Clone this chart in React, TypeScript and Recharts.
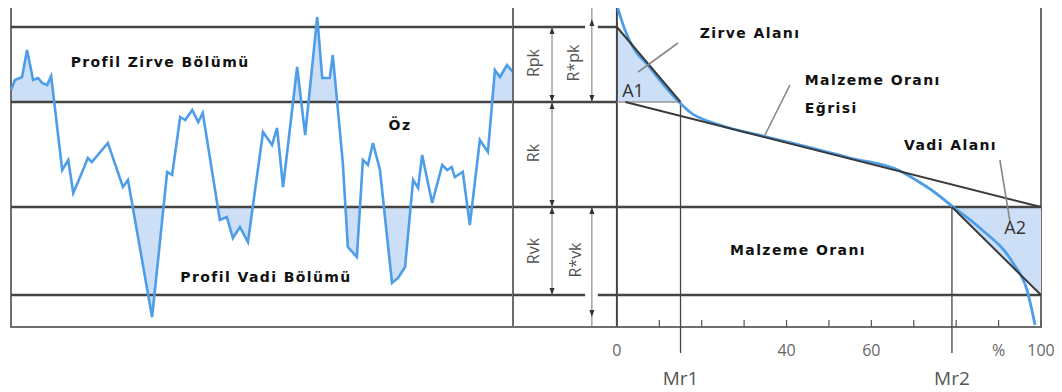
import React from "react";
import {ComposedChart, Line, Area, XAxis, YAxis, ReferenceLine, ReferenceArea, ReferenceDot} from "recharts";

// profile: position along sampling length (%) and height
const PROFILE_X = [0, 0.8, 2.2, 3.2, 4.4, 5.4, 6.2, 7.2, 8.0, 8.8, 10.2, 11.4, 12.4, 14.1, 15.3, 16.1, 19.3, 22.3, 23.3, 28.1, 29.3, 31.1, 32.1, 33.7, 34.7, 36.1, 37.3, 38.2, 41.6, 43.0, 44.2, 45.6, 47.2, 50.2, 52.0, 53.0, 54.2, 57.0, 58.6, 61.0, 62.0, 63.5, 64.1, 65.9, 66.1, 67.1, 68.9, 70.1, 71.1, 72.1, 73.5, 75.9, 77.1, 78.5, 80.1, 81.1, 81.9, 83.9, 85.9, 86.9, 87.8, 88.4, 90.0, 91.4, 93.4, 95.0, 96.4, 97.4, 98.8, 100];
const PROFILE_H = [23.7, 24.7, 25.0, 27.7, 24.7, 24.9, 24.4, 24.2, 25.1, 21.7, 15.7, 16.7, 13.4, 15.4, 16.9, 16.5, 18.4, 14.0, 14.7, 1.0, 6.7, 15.5, 15.2, 21.0, 20.7, 21.7, 20.5, 21.4, 10.7, 11.0, 8.9, 10.0, 8.5, 19.5, 18.2, 19.9, 14.0, 26.0, 19.2, 31.0, 24.9, 24.9, 27.2, 17.5, 16.4, 8.0, 7.0, 16.7, 16.2, 18.4, 15.7, 4.4, 4.9, 6.0, 14.7, 13.9, 17.2, 12.4, 16.2, 15.7, 16.0, 15.0, 15.5, 10.2, 18.7, 17.5, 25.7, 25.0, 26.2, 25.5];

// material ratio curve (Abbott curve)
const RATIO_PCT = [0.2, 1.9, 4.2, 7.3, 10.1, 14.2, 17.2, 24.3, 35.4, 43.2, 55.0, 66.8, 70.5, 74.5, 79.0, 85.6, 93.4, 96.7, 98.6];
const RATIO_H = [31.9, 29.7, 27.7, 26.2, 24.7, 22.7, 21.5, 20.2, 19.0, 18.2, 16.9, 15.6, 14.7, 13.6, 12.1, 9.9, 6.4, 3.7, 0.2];

const PEAK_TOP = 30;
const CORE_TOP = 22.5;
const CORE_BOTTOM = 12;
const VALLEY_BOTTOM = 3.2;
const MR1 = 15;
const MR2 = 79;
const RK_START = 2; // equivalent straight line starts near 0 %

const RATIO_TICKS = [0, 10, 20, 30, 40, 50, 60, 70, 80, 90, 100];
const RATIO_TICK_LABELS: Record<number, string> = {0: "0", 40: "40", 60: "60", 90: "%", 100: "100"};

const profileData = PROFILE_X.map((x, i) => ({x, h: PROFILE_H[i]}));
const ratioData = RATIO_PCT.map((x, i) => ({x, h: RATIO_H[i]}));
const a1Data = [{x: 0, lo: CORE_TOP, hi: PEAK_TOP}, {x: MR1, lo: CORE_TOP, hi: CORE_TOP}];
const a2Data = [{x: MR2, lo: CORE_BOTTOM, hi: CORE_BOTTOM}, {x: 100, lo: VALLEY_BOTTOM, hi: CORE_BOTTOM}];

const BLUE = "#4d9de8";
const FILL = "#cddff6";
const DARK = "#444";
const FRAME = "#6e6e6e";
const LEFT_X = -24.5;
const COL1 = -15.3;
const COL2 = -5.9;

// chart geometry (plot area spans y 7..327 for heights 32..0)
const H = 392;
const TOP = 7;
const PLOT_H = 320;
const Y_MAX = 32;
const yPx = (v: number) => TOP + (Y_MAX - v) / Y_MAX * PLOT_H;

const boldFont = {fontFamily: "DejaVu Sans", fontWeight: 700, fontSize: 14, letterSpacing: 1.4, fill: "#111"};
const plainFont = {fontFamily: "Open Sans", fontSize: 16, fill: "#555"};

const label = (key: string, x: number, y: number, text: string, style: any, anchor = "middle", rotate = false) => (
    <ReferenceDot key={key} x={x} y={y} r={0} ifOverflow="visible"
                  shape={(p: any) => (
                      <text x={p.cx} y={p.cy} textAnchor={anchor} dominantBaseline="central" style={style}
                            transform={rotate ? `rotate(-90 ${p.cx} ${p.cy})` : undefined}>{text}</text>
                  )}/>
);

const arrowHead = (key: string, x: number, y: number, up: boolean) => (
    <ReferenceDot key={key} x={x} y={y} r={0} ifOverflow="visible"
                  shape={(p: any) => {
                      const d = up ? 7 : -7;
                      return <polygon points={`${p.cx},${p.cy} ${p.cx - 2.5},${p.cy + d} ${p.cx + 2.5},${p.cy + d}`} fill="#333"/>;
                  }}/>
);

const seg = (key: string, x1: number, y1: number, x2: number, y2: number, stroke = DARK, width = 2) => (
    <ReferenceLine key={key} segment={[{x: x1, y: y1}, {x: x2, y: y2}]} stroke={stroke} strokeWidth={width} ifOverflow="visible"/>
);

const DIMENSIONS = [
    {x: COL1, from: PEAK_TOP, to: CORE_TOP, tipTop: PEAK_TOP, tipBottom: CORE_TOP},
    {x: COL1, from: CORE_TOP, to: CORE_BOTTOM, tipTop: CORE_TOP, tipBottom: CORE_BOTTOM},
    {x: COL1, from: CORE_BOTTOM, to: VALLEY_BOTTOM, tipTop: CORE_BOTTOM, tipBottom: VALLEY_BOTTOM},
    {x: COL2, from: 32, to: CORE_TOP, tipTop: 30.8, tipBottom: CORE_TOP},
    {x: COL2, from: CORE_BOTTOM, to: 0, tipTop: CORE_BOTTOM, tipBottom: 1.0},
];

const RatioTick = (props: any) => {
    const {x, y, payload} = props;
    const text = RATIO_TICK_LABELS[payload.value];
    return (
        <g>
            <line x1={x} x2={x} y1={y - 7} y2={y} stroke="#555" strokeWidth={1.2}/>
            {text && <text x={x} y={y + 29} textAnchor="middle" fill="#666" fontSize={16} fontFamily="Open Sans">{text}</text>}
        </g>
    );
};

// profile chart; the fill layers are clipped to the peak / valley bands
const ProfileChart = ({children}: {children: React.ReactNode}) => (
    <ComposedChart width={520} height={H} data={profileData} margin={{top: TOP, left: 11, right: 7, bottom: H - TOP - PLOT_H}}>
        <XAxis dataKey="x" type="number" domain={[0, 100]} hide/>
        <YAxis type="number" domain={[0, Y_MAX]} hide allowDataOverflow/>
        {children}
    </ComposedChart>
);

export default function App() {
    const peakClip = `inset(0 0 ${H - yPx(CORE_TOP)}px 0)`;
    const valleyClip = `inset(${yPx(CORE_BOTTOM)}px 0 0 0)`;
    return (
        <div style={{position: "relative", left: -8, top: -8, width: 1062, height: H, background: "#fff"}}>
            <div style={{position: "absolute", left: 0, top: 0, clipPath: peakClip}}>
                <ProfileChart>
                    <Area dataKey="h" baseValue={CORE_TOP} type="linear" fill={FILL} fillOpacity={1} stroke="none" isAnimationActive={false}/>
                </ProfileChart>
            </div>
            <div style={{position: "absolute", left: 0, top: 0, clipPath: valleyClip}}>
                <ProfileChart>
                    <Area dataKey="h" baseValue={CORE_BOTTOM} type="linear" fill={FILL} fillOpacity={1} stroke="none" isAnimationActive={false}/>
                </ProfileChart>
            </div>
            <div style={{position: "absolute", left: 0, top: 0}}>
                <ProfileChart>
                    <ReferenceArea x1={0} x2={100} y1={0} y2={Y_MAX} fill="none" stroke={FRAME} strokeWidth={2} ifOverflow="visible"/>
                    <ReferenceLine y={PEAK_TOP} stroke={DARK} strokeWidth={2.5}/>
                    <ReferenceLine y={CORE_TOP} stroke={DARK} strokeWidth={2.5}/>
                    <ReferenceLine y={CORE_BOTTOM} stroke={DARK} strokeWidth={2.5}/>
                    <ReferenceLine y={VALLEY_BOTTOM} stroke={DARK} strokeWidth={2.5}/>
                    <Line dataKey="h" type="linear" stroke={BLUE} strokeWidth={2.6} dot={false} isAnimationActive={false}/>
                    {label("pz", 29.7, 26.5, "Profil Zirve Bölümü", boldFont)}
                    {label("oz", 77.5, 20.2, "Öz", boldFont)}
                    {label("pv", 50.8, 5.0, "Profil Vadi Bölümü", boldFont)}
                </ProfileChart>
            </div>
            <div style={{position: "absolute", left: 500, top: 0}}>
                <ComposedChart width={562} height={H} data={ratioData} margin={{top: TOP, left: 13, right: 21, bottom: 5}}>
                    <XAxis dataKey="x" type="number" domain={[LEFT_X, 100]} ticks={RATIO_TICKS} tick={<RatioTick/>}
                           tickLine={false} axisLine={false} tickSize={0} tickMargin={0} height={H - TOP - PLOT_H - 5}
                           allowDataOverflow interval={0}/>
                    <YAxis type="number" domain={[0, Y_MAX]} hide allowDataOverflow/>
                    <ReferenceArea x1={LEFT_X} x2={100} y1={0} y2={Y_MAX} fill="none" stroke={FRAME} strokeWidth={2} ifOverflow="visible"/>
                    <Area data={a1Data} dataKey={(d: any) => [d.lo, d.hi]} type="linear" fill={FILL} fillOpacity={1} stroke="none"
                          isAnimationActive={false}/>
                    <Area data={a2Data} dataKey={(d: any) => [d.lo, d.hi]} type="linear" fill={FILL} fillOpacity={1} stroke="none"
                          isAnimationActive={false}/>
                    <ReferenceLine x={0} stroke={DARK} strokeWidth={2}/>
                    {seg("l30a", LEFT_X, PEAK_TOP, -7.5, PEAK_TOP, DARK, 2.5)}
                    {seg("l30b", -4.5, PEAK_TOP, 0, PEAK_TOP, DARK, 2.5)}
                    {seg("l22", LEFT_X, CORE_TOP, 0, CORE_TOP, DARK, 2.5)}
                    {seg("l22b", 0, CORE_TOP, MR1, CORE_TOP, "#999", 1.5)}
                    {seg("l12", LEFT_X, CORE_BOTTOM, 100, CORE_BOTTOM, DARK, 2.5)}
                    {seg("l3a", LEFT_X, VALLEY_BOTTOM, -7.5, VALLEY_BOTTOM, DARK, 2.5)}
                    {seg("l3b", -4.5, VALLEY_BOTTOM, 100, VALLEY_BOTTOM, DARK, 2.5)}
                    {seg("mr1", MR1, CORE_TOP, MR1, -2.6, DARK, 1.3)}
                    {seg("mr2", MR2, CORE_BOTTOM, MR2, -2.6, DARK, 1.3)}
                    {DIMENSIONS.map((d, i) => seg(`dim${i}`, d.x, d.from, d.x, d.to, "#777", 1))}
                    {DIMENSIONS.map((d, i) => arrowHead(`up${i}`, d.x, d.tipTop, true))}
                    {DIMENSIONS.map((d, i) => arrowHead(`dn${i}`, d.x, d.tipBottom, false))}
                    <Line dataKey="h" type="monotone" stroke={BLUE} strokeWidth={2.8} dot={false} isAnimationActive={false}/>
                    {seg("rk", RK_START, CORE_TOP, 100, CORE_BOTTOM, "#3a3a3a", 2)}
                    {seg("a1", 0, PEAK_TOP, MR1, CORE_TOP, "#3a3a3a", 2)}
                    {seg("a2", MR2, CORE_BOTTOM, 100, VALLEY_BOTTOM, "#3a3a3a", 2)}
                    {seg("lz", 5.0, 25.5, 14.4, 28.4, "#888", 1.6)}
                    {seg("lm", 34.9, 19.2, 40.8, 24.2, "#888", 1.6)}
                    {seg("lv", 90.3, 16.7, 92.7, 10.5, "#888", 1.6)}
                    {label("za", 31.4, 29.4, "Zirve Alanı", boldFont)}
                    {label("mo", 44.3, 24.7, "Malzeme Oranı", boldFont, "start")}
                    {label("eg", 44.3, 21.9, "Eğrisi", boldFont, "start")}
                    {label("va", 67.7, 18.2, "Vadi Alanı", boldFont, "start")}
                    {label("mb", 42.7, 7.7, "Malzeme Oranı", boldFont)}
                    {label("a1t", 3.8, 23.7, "A1", {...plainFont, fontSize: 18, fill: "#333"})}
                    {label("a2t", 93.9, 10.0, "A2", {...plainFont, fontSize: 18, fill: "#333"})}
                    {label("rpk", -19.8, 26.4, "Rpk", plainFont, "middle", true)}
                    {label("rspk", -10.4, 26.4, "R*pk", plainFont, "middle", true)}
                    {label("rk", -19.8, 17.4, "Rk", plainFont, "middle", true)}
                    {label("rvk", -19.8, 7.6, "Rvk", plainFont, "middle", true)}
                    {label("rsvk", -9.9, 6.7, "R*vk", plainFont, "middle", true)}
                    {label("m1", MR1, -5.1, "Mr1", {...plainFont, fontSize: 19})}
                    {label("m2", MR2, -5.1, "Mr2", {...plainFont, fontSize: 19})}
                </ComposedChart>
            </div>
        </div>
    );
}
